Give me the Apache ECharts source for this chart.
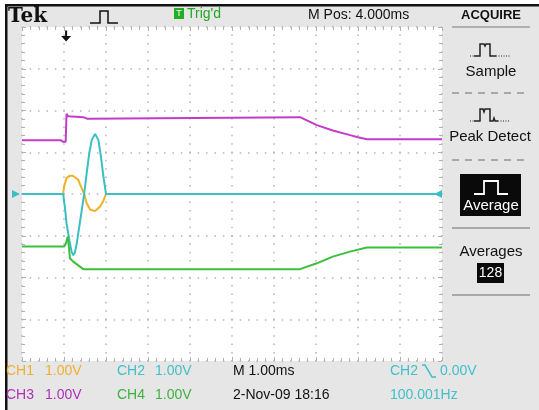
<!DOCTYPE html>
<html>
<head>
<meta charset="utf-8">
<script src="https://cdn.jsdelivr.net/npm/echarts@6/dist/echarts.min.js"></script>
<style>
  html, body { margin: 0; padding: 0; background: #fff; }
  #scope { width: 539px; height: 410px; }
</style>
</head>
<body>
<div id="scope"></div>
<script>
// x in divisions (M 1.00ms/div), y in divisions (1.00V/div)
const ch1Data = [[0, 0], [0.98, 0], [1.0, 0.17], [1.06, 0.38], [1.14, 0.44], [1.22, 0.43], [1.34, 0.34], [1.42, 0.14], [1.48, 0], [1.54, -0.22], [1.62, -0.37], [1.74, -0.41], [1.86, -0.3], [1.94, -0.16], [2.0, 0], [10, 0]];
const ch2Data = [[0, 0], [0.98, 0], [1.02, -0.3], [1.06, -0.7], [1.13, -1.12], [1.18, -1.38], [1.22, -1.47], [1.26, -1.4], [1.3, -1.2], [1.34, -0.94], [1.4, -0.54], [1.48, 0], [1.54, 0.5], [1.6, 0.97], [1.66, 1.29], [1.74, 1.44], [1.82, 1.29], [1.88, 0.89], [1.94, 0.41], [2.0, 0], [10, 0]];
const ch3Data = [[0, 1.29], [0.92, 1.29], [0.98, 1.25], [1.04, 1.25], [1.06, 1.92], [1.1, 1.86], [1.14, 1.84], [1.46, 1.84], [1.47, 1.8], [1.56, 1.8], [1.57, 1.84], [6.62, 1.84], [7.02, 1.65], [7.4, 1.52], [7.81, 1.41], [8.0, 1.36], [8.21, 1.31], [10, 1.31]];
const ch4Data = [[0, -1.26], [1.0, -1.26], [1.04, -1.2], [1.09, -1.02], [1.12, -1.3], [1.14, -1.54], [1.22, -1.62], [1.3, -1.68], [1.38, -1.74], [1.46, -1.8], [6.62, -1.8], [7.02, -1.66], [7.4, -1.5], [7.81, -1.38], [8.21, -1.28], [10, -1.28]];
const triggerPos = 1.05;
const xRange = [0, 10];
const yRange = [-4, 4];

const colors = { ch1: '#f2b024', ch2: '#3bbfc6', ch3: '#c23cc8', ch4: '#3cbf3c' };
const txtColors = { ch1: '#efb030', ch2: '#40c0c8', ch3: '#b030b8', ch4: '#40b040' };
const font = 'Arial, "Liberation Sans", sans-serif';

const tickStyle = { color: '#b0b0b0', width: 1 };
function edgeAxis(pos, isX, grid) {
  return {
    type: 'value',
    min: isX ? xRange[0] : yRange[0],
    max: isX ? xRange[1] : yRange[1],
    interval: 1,
    position: pos,
    axisLine: { show: false, onZero: false },
    axisLabel: { show: false },
    axisTick: { show: true, inside: true, length: 4, lineStyle: tickStyle },
    minorTick: { show: true, splitNumber: 5, length: 3, lineStyle: tickStyle },
    splitLine: grid ? {
      show: true,
      lineStyle: { color: '#b4b4b4', width: 1.5, type: isX ? [1.5, 6.85] : [1.5, 6.9], dashOffset: 0.75 }
    } : { show: false }
  };
}

function text(x, y, str, color, size, extra) {
  return {
    type: 'text', x: x, y: y,
    style: Object.assign({ text: str, fill: color, font: (size || 14) + 'px ' + font, verticalAlign: 'middle' }, extra || {})
  };
}
function line(points, color, width, dash) {
  return { type: 'polyline', shape: { points: points }, style: { stroke: color, lineWidth: width || 1.5, fill: null, lineDash: dash || null } };
}

const graphics = [
  { type: 'rect', shape: { x: 0, y: 0, width: 539, height: 4 }, style: { fill: '#fff' } },
  { type: 'rect', shape: { x: 0, y: 0, width: 5, height: 410 }, style: { fill: '#fff' } },
  { type: 'rect', shape: { x: 5, y: 4, width: 534, height: 2.5 }, style: { fill: '#111' } },
  { type: 'rect', shape: { x: 5, y: 4, width: 2.5, height: 406 }, style: { fill: '#111' } },
  // header
  text(8, 17, 'Tek', '#111', 20, { font: 'bold 20px "DejaVu Serif", serif' }),
  line([[90, 23], [100, 23], [100, 11], [108, 11], [108, 23], [118, 23]], '#111', 1.5),
  { type: 'rect', shape: { x: 174, y: 8, width: 10, height: 11 }, style: { fill: '#22ae22' } },
  text(179, 13.5, 'T', '#fff', 9, { align: 'center' }),
  text(187, 14, "Trig'd", '#22a822', 14),
  text(308, 15, 'M Pos: 4.000ms', '#111', 14),
  text(491, 15, 'ACQUIRE', '#111', 13, { align: 'center', font: 'bold 13px ' + font }),
  line([[452, 27], [530, 27]], '#b0b0b0', 2),
  // right menu
  line([[470, 56], [474, 56]], '#222', 1, [1, 1.5]),
  line([[474, 56], [480, 56], [480, 44], [484, 44], [485, 46], [486, 44], [490, 44], [490, 56], [496, 56]], '#222', 1.5),
  line([[496, 56], [510, 56]], '#222', 1, [1, 1.5]),
  text(491, 72, 'Sample', '#111', 15, { align: 'center' }),
  line([[452, 93], [530, 93]], '#a8a8a8', 2, [7, 6]),
  line([[470, 121], [474, 121]], '#222', 1, [1, 1.5]),
  line([[474, 121], [480, 121], [480, 109], [483, 109], [484, 112], [485, 109], [490, 109], [490, 121], [493, 121], [494, 118], [495, 121], [498, 121]], '#222', 1.5),
  line([[498, 121], [510, 121]], '#222', 1, [1, 1.5]),
  text(490, 137, 'Peak Detect', '#111', 15, { align: 'center' }),
  line([[452, 160], [530, 160]], '#a8a8a8', 2, [7, 6]),
  { type: 'rect', shape: { x: 460, y: 174, width: 61, height: 42 }, style: { fill: '#0a0a0a' } },
  line([[474, 194], [484, 194], [484, 181], [498, 181], [498, 194], [508, 194]], '#fff', 1.8),
  text(491, 206, 'Average', '#fff', 15, { align: 'center' }),
  line([[452, 228], [530, 228]], '#a8a8a8', 2),
  text(491, 252, 'Averages', '#111', 15, { align: 'center' }),
  { type: 'rect', shape: { x: 477, y: 263, width: 27, height: 20 }, style: { fill: '#0a0a0a' } },
  text(490.5, 273, '128', '#fff', 14, { align: 'center' }),
  line([[452, 295], [530, 295]], '#a8a8a8', 2),
  // readouts
  text(6, 371, 'CH1', txtColors.ch1, 14),
  text(45, 371, '1.00V', txtColors.ch1, 14),
  text(117, 371, 'CH2', txtColors.ch2, 14),
  text(155, 371, '1.00V', txtColors.ch2, 14),
  text(233, 371, 'M 1.00ms', '#111', 14),
  text(390, 371, 'CH2', txtColors.ch2, 14),
  line([[422, 365], [425, 365], [432, 377], [436, 377]], txtColors.ch2, 1.5),
  text(440, 371, '0.00V', txtColors.ch2, 14),
  text(6, 395, 'CH3', txtColors.ch3, 14),
  text(45, 395, '1.00V', txtColors.ch3, 14),
  text(117, 395, 'CH4', txtColors.ch4, 14),
  text(155, 395, '1.00V', txtColors.ch4, 14),
  text(233, 395, '2-Nov-09 18:16', '#111', 14),
  text(390, 395, '100.001Hz', txtColors.ch2, 14)
];

function trace(name, data, color, extra) {
  return Object.assign({
    name: name, type: 'line', data: data, showSymbol: false, symbol: 'none',
    lineStyle: { color: color, width: 2 }, itemStyle: { color: color },
    animation: false, silent: true
  }, extra || {});
}

const chart = echarts.init(document.getElementById('scope'));
chart.setOption({
  backgroundColor: '#e6e6e6',
  animation: false,
  grid: { left: 22, top: 27, width: 420, height: 334, show: true, backgroundColor: '#fff', borderWidth: 0 },
  xAxis: [edgeAxis('bottom', true, true), edgeAxis('top', true, false)],
  yAxis: [edgeAxis('left', false, true), edgeAxis('right', false, false)],
  graphic: graphics,
  series: [
    trace('CH1', ch1Data, colors.ch1),
    trace('CH2', ch2Data, colors.ch2, {
      markPoint: {
        label: { show: false },
        data: [
          { coord: [xRange[0], 0], symbol: 'triangle', symbolSize: [8, 8], symbolRotate: -90, symbolOffset: [-6, 0], itemStyle: { color: colors.ch2 } },
          { coord: [xRange[1], 0], symbol: 'triangle', symbolSize: [8, 8], symbolRotate: 90, symbolOffset: [-4, 0], itemStyle: { color: colors.ch2 } }
        ]
      }
    }),
    trace('CH3', ch3Data, colors.ch3, {
      markPoint: {
        label: { show: false },
        data: [
          { coord: [triggerPos, yRange[1]], symbol: 'path://M4,0 L6,0 L6,6 L10,6 L5,12 L0,6 L4,6 Z', symbolSize: [10, 11], symbolOffset: [0, 9], itemStyle: { color: '#111' } }
        ]
      }
    }),
    trace('CH4', ch4Data, colors.ch4)
  ]
});
</script>
</body>
</html>
